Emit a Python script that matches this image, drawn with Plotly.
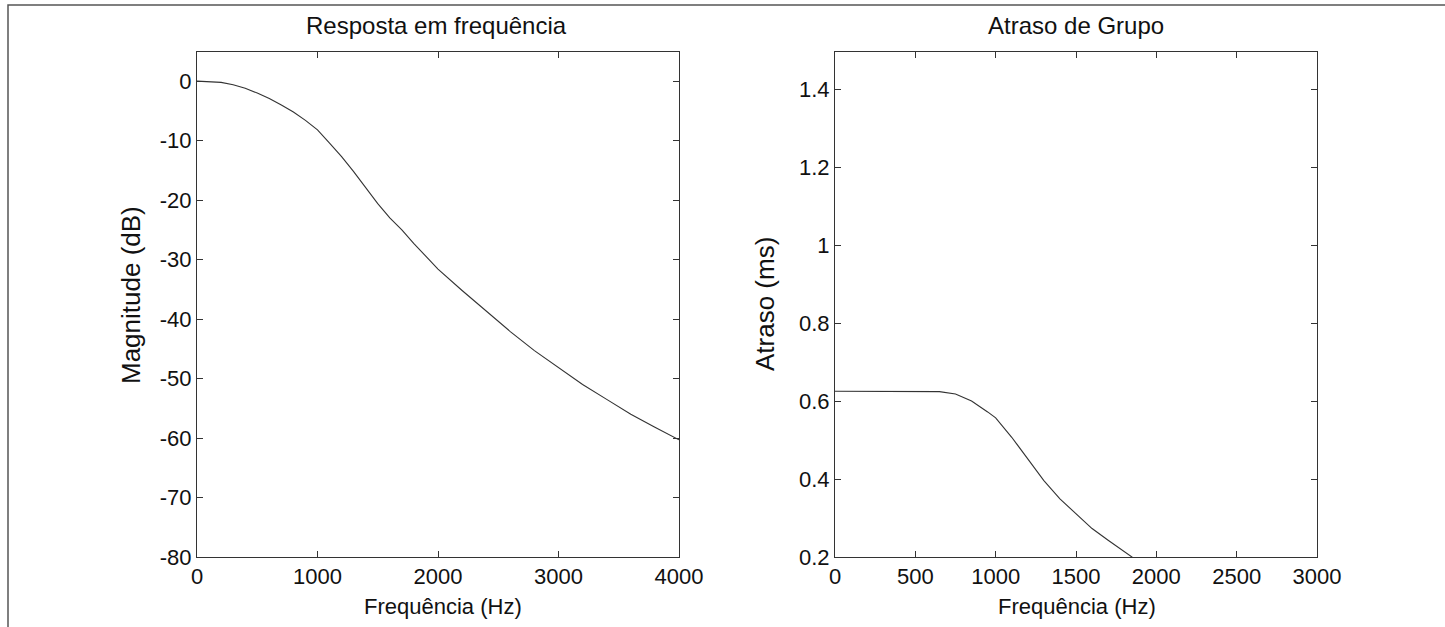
import plotly.graph_objects as go
from plotly.subplots import make_subplots

# Resposta em frequência (dB)
freq_mag = [0, 100, 200, 300, 400, 500, 600, 700, 800, 900, 1000, 1100, 1200, 1300, 1400,
            1500, 1600, 1700, 1800, 1900, 2000, 2200, 2400, 2600, 2800, 3000, 3200, 3400,
            3600, 3800, 4000]
mag_db = [0, -0.05, -0.2, -0.6, -1.2, -2.0, -2.9, -4.0, -5.2, -6.6, -8.2, -10.4, -12.7, -15.2,
          -18.0, -20.6, -23.0, -25.0, -27.3, -29.5, -31.6, -35.2, -38.6, -42.1, -45.3, -48.2,
          -51.0, -53.5, -56.0, -58.2, -60.3]
ticks_mag = [-80, -70, -60, -50, -40, -30, -20, -10, 0]

# Atraso de grupo (ms)
freq_gd = [0, 200, 400, 600, 650, 750, 850, 950, 1000, 1100, 1200, 1300, 1400, 1500, 1600,
           1700, 1800, 1900]
atraso_ms = [0.625, 0.625, 0.625, 0.625, 0.624, 0.618, 0.600, 0.572, 0.557, 0.507, 0.453,
             0.396, 0.349, 0.312, 0.273, 0.243, 0.214, 0.185]
ticks_gd = [0.2, 0.4, 0.6, 0.8, 1, 1.2, 1.4]

W, H = 1445, 627
FONT = "Liberation Sans, Arial, sans-serif"
cor = "#333333"

fig = make_subplots(rows=1, cols=2)
fig.add_trace(go.Scatter(x=freq_mag, y=mag_db, mode="lines",
                         line=dict(color=cor, width=1.1)), 1, 1)
fig.add_trace(go.Scatter(x=freq_gd, y=atraso_ms, mode="lines",
                         line=dict(color=cor, width=1.1)), 1, 2)

eixo = dict(showline=True, linecolor=cor, linewidth=1, mirror="ticks", ticks="inside",
            ticklen=6, tickcolor=cor, showgrid=False, zeroline=False, automargin=False,
            tickfont=dict(family=FONT, size=22, color="#111111"))

ydom = [(H - 557) / H, (H - 52) / H]
fig.update_xaxes(eixo)
fig.update_yaxes(eixo)
fig.update_xaxes(domain=[197 / W, 679 / W], range=[0, 4000], tickvals=[0, 1000, 2000, 3000, 4000],
                 row=1, col=1)
fig.update_yaxes(domain=ydom, range=[-80, 4.9], tickvals=ticks_mag,
                 ticktext=[str(v) for v in ticks_mag], row=1, col=1)
fig.update_xaxes(domain=[835 / W, 1317 / W], range=[0, 3000],
                 tickvals=[0, 500, 1000, 1500, 2000, 2500, 3000], row=1, col=2)
fig.update_yaxes(domain=ydom, range=[0.2, 1.495], tickvals=ticks_gd,
                 ticktext=[f"{v:g}" for v in ticks_gd], row=1, col=2)

def texto(x, y, s, ang=0, tam=22):
    fig.add_annotation(x=x / W, y=1 - y / H, xref="paper", yref="paper", text=s, showarrow=False,
                       textangle=ang, font=dict(family=FONT, size=tam, color="#111111"),
                       xanchor="center", yanchor="middle")

texto(436, 25, "Resposta em frequência", tam=24)
texto(1076, 25, "Atraso de Grupo", tam=24)
texto(443, 606, "Frequência (Hz)")
texto(1077, 606, "Frequência (Hz)")
texto(131, 295, "Magnitude (dB)", -90, 26)
texto(765, 304, "Atraso (ms)", -90, 26)

# moldura da figura
fig.add_shape(type="rect", xref="paper", yref="paper", x0=8 / W, x1=1.02, y0=-0.02, y1=1 - 5 / H,
              line=dict(color="#555555", width=1.5))

fig.update_layout(width=W, height=H, margin=dict(l=0, r=0, t=0, b=0, autoexpand=False),
                  showlegend=False, paper_bgcolor="white", plot_bgcolor="white")
fig.write_html("out.html", config={"displayModeBar": False},
               post_script="document.body.style.margin='0px';document.body.style.overflow='hidden';")
